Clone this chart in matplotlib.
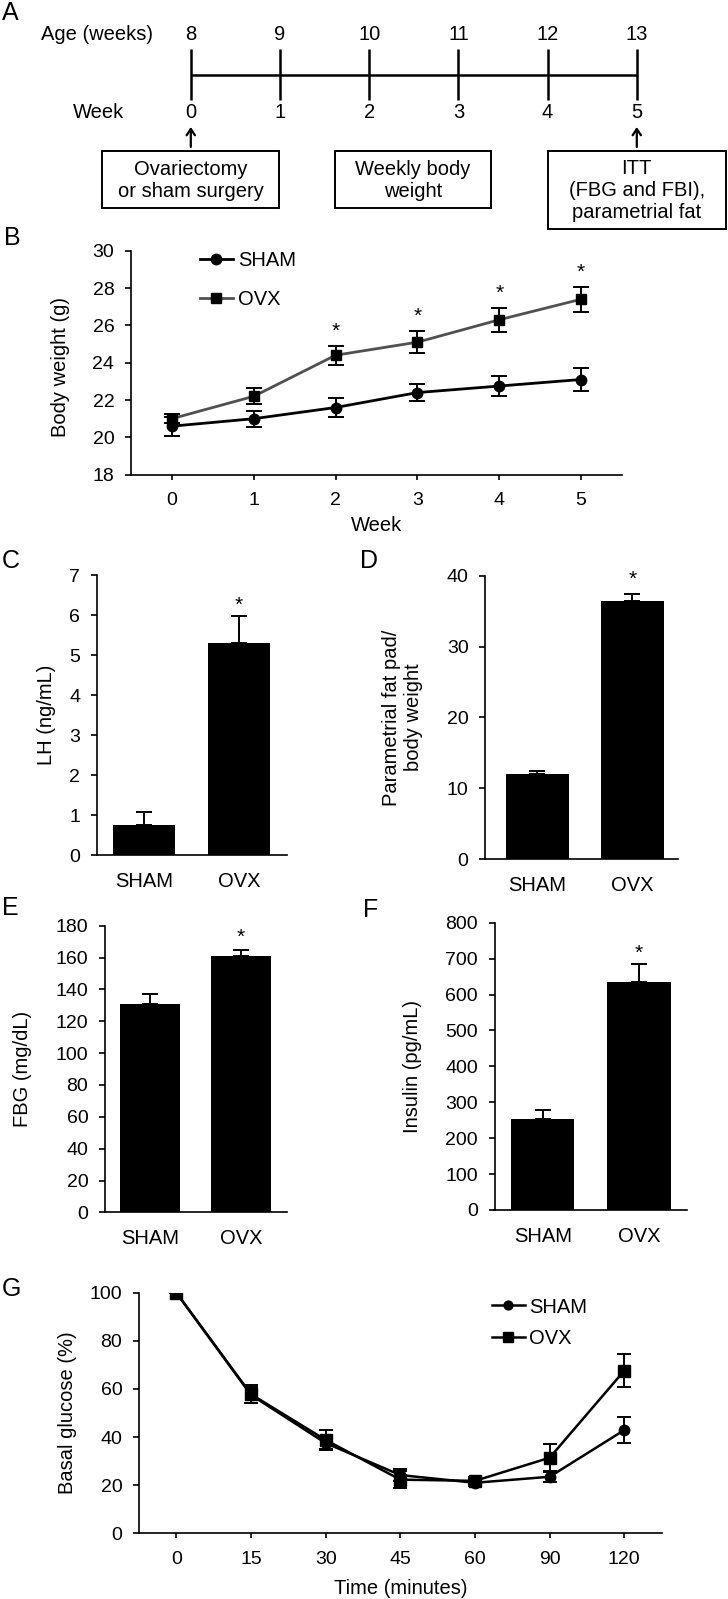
import matplotlib

matplotlib.use("Agg")
import matplotlib.pyplot as plt
from matplotlib import font_manager
from matplotlib.patches import Rectangle

# --- data -------------------------------------------------------------------
weeks = [0, 1, 2, 3, 4, 5]
ages = [8, 9, 10, 11, 12, 13]
box_texts = ["Ovariectomy\nor sham surgery", "Weekly body\nweight", "ITT\n(FBG and FBI),\nparametrial fat"]
box_weeks = [0, 2.49, 5.0]

bw_sham = [20.6, 21.0, 21.6, 22.4, 22.75, 23.1]
bw_sham_err = [0.5, 0.43, 0.5, 0.46, 0.56, 0.62]
bw_ovx = [21.0, 22.2, 24.4, 25.1, 26.3, 27.4]
bw_ovx_err = [0.25, 0.42, 0.5, 0.6, 0.65, 0.66]
bw_sig = [False, False, True, True, True, True]

groups = ["SHAM", "OVX"]
lh = [0.75, 5.31]
lh_err = [0.32, 0.66]
fat = [12.0, 36.4]
fat_err = [0.4, 0.95]
fbg = [131, 161]
fbg_err = [6, 4]
insulin = [254, 634]
insulin_err = [24, 51]

itt_times = ["0", "15", "30", "45", "60", "90", "120"]
itt_sham = [100, 57.5, 37.5, 24.2, 21.0, 23.5, 42.9]
itt_sham_err = [0, 3.5, 2.5, 2.5, 1.5, 2.0, 5.3]
itt_ovx = [100, 57.8, 38.8, 22.3, 21.8, 31.4, 67.6]
itt_ovx_err = [0, 3.8, 4.2, 3.4, 1.5, 5.7, 6.9]

# --- style ------------------------------------------------------------------
available = {f.name for f in font_manager.fontManager.ttflist}
plt.rcParams["font.family"] = [f for f in ["Liberation Sans", "DejaVu Sans"] if f in available]
plt.rcParams["axes.linewidth"] = 1.2
plt.rcParams["xtick.major.width"] = 1.2
plt.rcParams["ytick.major.width"] = 1.2

FS = 14
LFS = 14.5
W, H = 728, 1599


def px_axes(left, top, right, bottom):
    return fig.add_axes([left / W, 1 - bottom / H, (right - left) / W, (bottom - top) / H])


def style_axes(ax):
    ax.spines["top"].set_visible(False)
    ax.spines["right"].set_visible(False)
    ax.tick_params(axis="y", direction="out", length=4.5, pad=7.5, labelsize=FS)
    ax.tick_params(axis="x", direction="out", length=3.5, pad=7, labelsize=FS)


def bar_panel(ax, values, errs, ylim, step, ylabel, label_x, star_offset, xlim=(-0.5, 1.5)):
    x = range(len(groups))
    ax.bar(x, values, width=0.66, color="black", yerr=[[0] * len(errs), errs], capsize=6,
           error_kw=dict(elinewidth=1.4, capthick=1.4, ecolor="black"))
    ax.annotate("*", xy=(1, values[1] + errs[1]), xytext=(0, star_offset), textcoords="offset points",
                ha="center", va="baseline", fontsize=FS + 1)
    ax.set_xlim(*xlim)
    ax.set_ylim(0, ylim)
    ax.set_yticks(range(0, int(ylim) + 1, step))
    ax.set_xticks(list(x))
    ax.set_xticklabels(groups)
    style_axes(ax)
    ax.tick_params(axis="x", length=0, pad=12, labelsize=LFS)
    ax.set_ylabel(ylabel, fontsize=LFS)
    ax.yaxis.set_label_coords(label_x, 0.5)


fig = plt.figure(figsize=(W / 100, H / 100), dpi=100)

# --- A: timeline ------------------------------------------------------------
ax_a = fig.add_axes([0, 1 - 235 / H, 1, 235 / H])
ax_a.set_xlim(-190.8 / 89.2, (W - 190.8) / 89.2)
ax_a.set_ylim(235, 0)
ax_a.axis("off")
ax_a.hlines(75, weeks[0], weeks[-1], color="black", lw=1.8)
ax_a.vlines(weeks, 49, 100, color="black", lw=1.8)
for w, a in zip(weeks, ages):
    ax_a.text(w, 35, str(a), ha="center", va="center", fontsize=LFS)
    ax_a.text(w, 113, str(w), ha="center", va="center", fontsize=LFS)
ax_a.text(-1.046, 35, "Age (weeks)", ha="center", va="center", fontsize=LFS)
ax_a.text(-1.034, 113, "Week", ha="center", va="center", fontsize=LFS)
for w in (weeks[0], weeks[-1]):
    ax_a.annotate("", xy=(w, 127), xytext=(w, 147),
                  arrowprops=dict(arrowstyle="->,head_length=0.45,head_width=0.3", lw=1.6,
                                  color="black", shrinkA=0, shrinkB=0))
box_half = [0.99, 0.87, 1.0]
box_h = [57, 57, 78]
for bx, txt, hw, bh in zip(box_weeks, box_texts, box_half, box_h):
    ax_a.add_patch(Rectangle((bx - hw, 151), 2 * hw, bh, fill=False, ec="black", lw=1.4))
    ax_a.text(bx, 151 + bh / 2 + 1, txt, ha="center", va="center", fontsize=LFS, linespacing=1.2)

# --- B: body weight ---------------------------------------------------------
ax_b = px_axes(131, 250.7, 622, 474.7)
ax_b.plot(weeks, bw_ovx, color="#505050", lw=2, marker="s", ms=7.5, mfc="black", mec="black", label="OVX", zorder=3)
ax_b.plot(weeks, bw_sham, color="black", lw=2, marker="o", ms=7.5, label="SHAM", zorder=3)
ax_b.errorbar(weeks, bw_ovx, yerr=bw_ovx_err, fmt="none", ecolor="black", elinewidth=1.4, capsize=5.5, capthick=1.4)
ax_b.errorbar(weeks, bw_sham, yerr=bw_sham_err, fmt="none", ecolor="black", elinewidth=1.4, capsize=5.5, capthick=1.4)
for w, m, e, s in zip(weeks, bw_ovx, bw_ovx_err, bw_sig):
    if s:
        ax_b.annotate("*", xy=(w, m + e), xytext=(0, 6.5), textcoords="offset points",
                      ha="center", va="baseline", fontsize=FS + 1)
ax_b.set_xlim(-0.5, 5.5)
ax_b.set_ylim(18, 30)
ax_b.set_yticks(range(18, 31, 2))
ax_b.set_xticks(weeks)
style_axes(ax_b)
ax_b.tick_params(axis="x", pad=9)
ax_b.set_xlabel("Week", fontsize=LFS)
ax_b.xaxis.set_label_coords(0.5, -0.185)
ax_b.set_ylabel("Body weight (g)", fontsize=LFS)
ax_b.yaxis.set_label_coords(-0.125, 0.48)
handles, labels = ax_b.get_legend_handles_labels()
ax_b.legend(handles[::-1], labels[::-1], loc="upper left", bbox_to_anchor=(0.14, 1.0), frameon=False,
            fontsize=LFS, handlelength=1.65, handletextpad=0.25, labelspacing=1.0, borderpad=0, borderaxespad=0)

# --- C-F: bar panels --------------------------------------------------------
ax_c = px_axes(96.7, 575, 286.5, 855)
bar_panel(ax_c, lh, lh_err, 7, 1, "LH (ng/mL)", -0.216, 4)
ax_d = px_axes(485.2, 575.7, 677.9, 859)
bar_panel(ax_d, fat, fat_err, 40, 10, "Parametrial fat pad/\nbody weight", -0.321, 7, xlim=(-0.55, 1.48))
ax_e = px_axes(105, 925.7, 286.5, 1212.4)
bar_panel(ax_e, fbg, fbg_err, 180, 20, "FBG (mg/dL)", -0.40, 5)
ax_f = px_axes(494.5, 922.7, 687.2, 1210)
bar_panel(ax_f, insulin, insulin_err, 800, 100, "Insulin (pg/mL)", -0.374, 4)

# --- G: insulin tolerance test ----------------------------------------------
ax_g = px_axes(139, 1292.7, 661.6, 1533.3)
xi = range(len(itt_times))
ax_g.plot(xi, itt_sham, color="black", lw=1.8, marker="o", ms=7.5, label="SHAM", zorder=3)
ax_g.plot(xi, itt_ovx, color="black", lw=1.8, marker="s", ms=8, label="OVX", zorder=3)
ax_g.errorbar(xi, itt_sham, yerr=itt_sham_err, fmt="none", ecolor="black", elinewidth=1.4, capsize=5, capthick=1.4)
ax_g.errorbar(xi, itt_ovx, yerr=itt_ovx_err, fmt="none", ecolor="black", elinewidth=1.4, capsize=5, capthick=1.4)
ax_g.set_xlim(-0.5, 6.5)
ax_g.set_ylim(0, 100)
ax_g.set_yticks(range(0, 101, 20))
ax_g.set_xticks(list(xi))
ax_g.set_xticklabels(itt_times)
style_axes(ax_g)
ax_g.tick_params(axis="x", pad=9)
ax_g.set_xlabel("Time (minutes)", fontsize=LFS)
ax_g.xaxis.set_label_coords(0.5, -0.19)
ax_g.set_ylabel("Basal glucose (%)", fontsize=LFS)
ax_g.yaxis.set_label_coords(-0.119, 0.5)
ax_g.legend(loc="upper left", bbox_to_anchor=(0.675, 0.98), frameon=False, fontsize=LFS,
            handlelength=1.65, handletextpad=0.2, labelspacing=0.6, borderpad=0, borderaxespad=0,
            markerscale=0.85)

# --- panel letters ----------------------------------------------------------
for letter, lx, ly in [("A", 2, 1), ("B", 4, 226), ("C", 2, 549), ("D", 360, 549),
                       ("E", 2, 896), ("F", 363, 898), ("G", 2, 1277)]:
    fig.text(lx / W, 1 - ly / H, letter, fontsize=18, ha="left", va="top")

fig.savefig("out.png", dpi=100)
